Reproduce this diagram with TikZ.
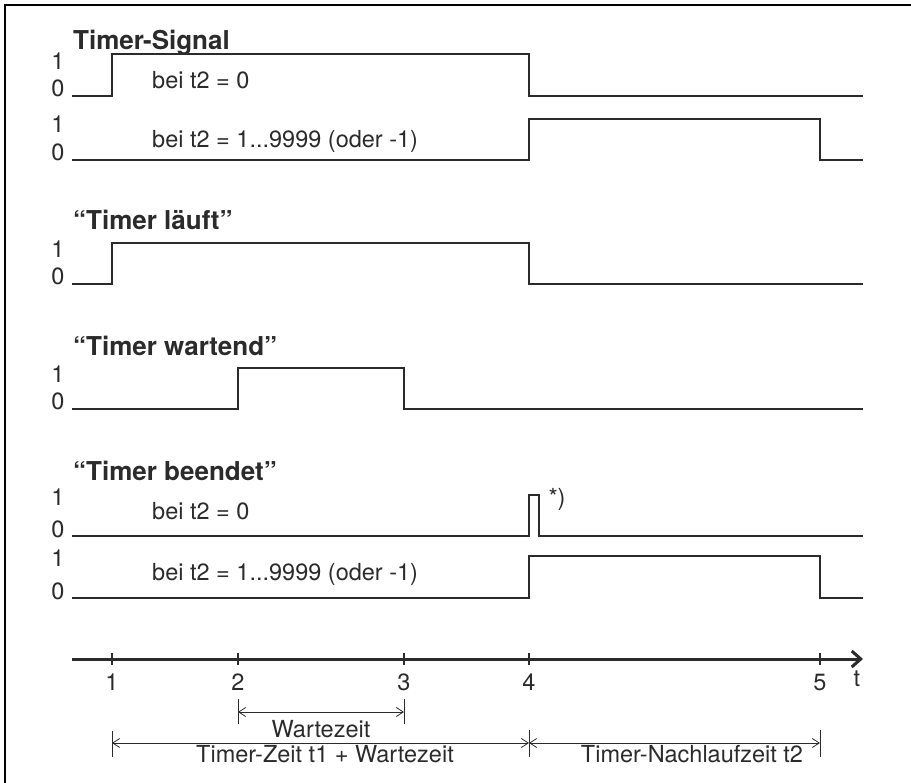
\documentclass[tikz,border=0pt]{standalone}
\usepackage{fontspec}
\setmainfont{TeX Gyre Heros}
\usetikzlibrary{arrows.meta}
\definecolor{ink}{HTML}{2B2B2B}
\begin{document}
\begin{tikzpicture}[x=1pt,y=-1pt,
  sig/.style={draw=ink,line width=1.4pt,line join=miter},
  lbl/.style={font=\fontsize{23.5}{27}\selectfont,text=ink,inner sep=0pt},
  ttl/.style={font=\fontsize{26}{30}\selectfont\bfseries,text=ink,inner sep=0pt,anchor=base west},
  lvl/.style={lbl,anchor=base},
  txt/.style={lbl,anchor=base west},
  dimarrow/.style={draw=ink,line width=0.8pt,{Straight Barb[length=7pt,width=9pt]}-{Straight Barb[length=7pt,width=9pt]}},
  dimbar/.style={draw=ink,line width=1pt},
  tick/.style={draw=ink,line width=2.5pt},
]
\useasboundingbox (0,0) rectangle (911,783);
\draw[line width=2.4pt] (5,783) -- (5,5) -- (911,5);

% time positions
\def\xs{72}\def\ta{112}\def\tb{238}\def\tc{404}\def\td{529}\def\te{820}\def\xe{863}

% ---------- Timer-Signal
\node[ttl] (ts) at (73,50) {Timer-Signal};
\node[lvl] (ts1a) at (58,70) {1};
\node[lvl] (ts0a) at (58,97) {0};
\draw[sig] (\xs,96) -- (\ta,96) -- (\ta,54) -- (\td,54) -- (\td,96) -- (\xe,96);
\node[txt] (tsA) at (152,89) {bei t2 = 0};
\node[lvl] (ts1b) at (58,133) {1};
\node[lvl] (ts0b) at (58,161) {0};
\draw[sig] (\xs,160) -- (\td,160) -- (\td,119) -- (\te,119) -- (\te,160) -- (\xe,160);
\node[txt] (tsB) at (152,148) {bei t2 = 1...9999 (oder -1)};

% ---------- Timer laeuft
\node[ttl] (tl) at (73,230) {“Timer läuft”};
\node[lvl] (tl1) at (58,258) {1};
\node[lvl] (tl0) at (58,285) {0};
\draw[sig] (\xs,284) -- (\ta,284) -- (\ta,243) -- (\td,243) -- (\td,284) -- (\xe,284);

% ---------- Timer wartend
\node[ttl] (tw) at (73,356) {“Timer wartend”};
\node[lvl] (tw1) at (58,383) {1};
\node[lvl] (tw0) at (58,410) {0};
\draw[sig] (\xs,409) -- (\tb,409) -- (\tb,368) -- (\tc,368) -- (\tc,409) -- (\xe,409);

% ---------- Timer beendet
\node[ttl] (tbn) at (73,481) {“Timer beendet”};
\node[lvl] (tb1a) at (58,506) {1};
\node[lvl] (tb0a) at (58,537) {0};
\draw[sig] (\xs,536) -- (\td,536) -- (\td,495) -- (539,495) -- (539,536) -- (\xe,536);
\node[txt] (tbA) at (152,520) {bei t2 = 0};
\node[lbl,anchor=center] (star) at (557,499) {*)};
\node[lvl] (tb1b) at (58,566) {1};
\node[lvl] (tb0b) at (58,599) {0};
\draw[sig] (\xs,598) -- (\td,598) -- (\td,556) -- (\te,556) -- (\te,598) -- (\xe,598);
\node[txt] (tbB) at (152,580) {bei t2 = 1...9999 (oder -1)};

% ---------- time axis
\coordinate (ax0) at (\xs,659);
\coordinate (ax1) at (\xe,659);
\draw[draw=ink,line width=3pt,-{Straight Barb[length=9pt,width=16pt,line width=3pt]}] (ax0) -- (ax1);
\foreach \x/\n in {\ta/1,\tb/2,\tc/3,\td/4,\te/5}{
  \coordinate (tk\n) at (\x,659);
  \draw[tick] (\x,653) -- (\x,665);
  \node[lvl] (n\n) at (\x,690) {\n};
}
\node[lvl] (tlab) at (857,686) {t};

% ---------- dimensions
\coordinate (wa) at (\tb,712);
\coordinate (wb) at (\tc,712);
\draw[dimbar] (\tb,699) -- (\tb,724);
\draw[dimbar] (\tc,699) -- (\tc,724);
\draw[dimarrow] (wa) -- (wb);
\node[lvl] (wz) at (321,737) {Wartezeit};

\coordinate (za) at (\ta,743);
\coordinate (zb) at (\td,743);
\coordinate (zc) at (\te,743);
\draw[dimbar] (\ta,731) -- (\ta,757);
\draw[dimbar] (\td,730) -- (\td,757);
\draw[dimbar] (\te,730) -- (\te,757);
\draw[dimarrow] (za) -- (zb);
\draw[dimarrow] (zb) -- (zc);
\node[lvl] (tz) at (325,762) {Timer-Zeit t1 + Wartezeit};
\node[lvl] (nz) at (692,762) {Timer-Nachlaufzeit t2};
\end{tikzpicture}
\end{document}
